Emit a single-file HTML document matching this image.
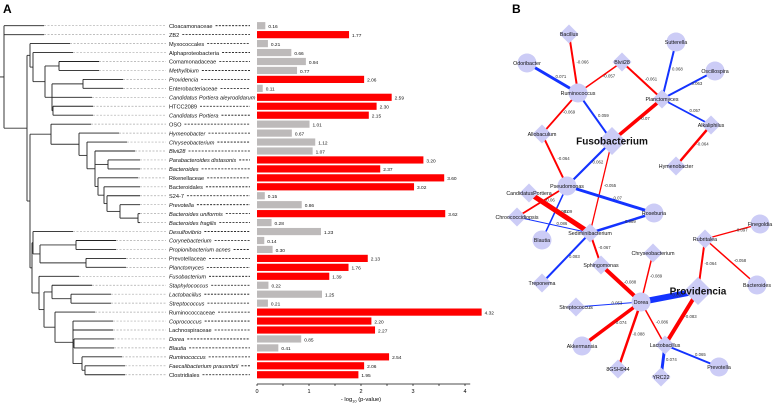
<!DOCTYPE html>
<html><head><meta charset="utf-8"><style>
html,body{margin:0;padding:0;background:#fff;}
svg{display:block;font-family:"Liberation Sans",sans-serif;}
</style></head><body>
<svg id="svg" width="778" height="404" viewBox="0 0 778 404">
<text x="3" y="13" font-size="12" font-weight="bold">A</text>
<text x="512" y="13" font-size="12" font-weight="bold">B</text>
<g id="tree"></g>
<g id="labels"></g>
<g id="bars"></g>
<g id="axis"></g>
<g id="edges"></g>
<g id="nodes"></g>
</svg>
<script>
const taxa=["Cloacamonaceae","ZB2","Myxococcales","Alphaproteobacteria","Comamonadaceae","Methylibium","Providencia","Enterobacteriaceae","Candidatus Portiera aleyrodidarum","HTCC2089","Candidatus Portiera","OSO","Hymenobacter","Chryseobacterium","Blvii28","Parabacteroides distasonis","Bacteroides","Rikenellaceae","Bacteroidales","S24-7","Prevotella","Bacteroides uniformis","Bacteroides fragilis","Desulfovibrio","Corynebacterium","Propionibacterium acnes","Prevotellaceae","Planctomyces","Fusobacterium","Staphylococcus","Lactobacillus","Streptococcus","Ruminococcaceae","Coprococcus","Lachnospiraceae","Dorea","Blautia","Ruminococcus","Faecalibacterium prausnitzii","Clostridiales"];
const values=[0.16,1.77,0.21,0.66,0.94,0.77,2.06,0.11,2.59,2.30,2.15,1.01,0.67,1.12,1.07,3.20,2.37,3.60,3.02,0.15,0.86,3.62,0.28,1.23,0.14,0.30,2.13,1.76,1.39,0.22,1.25,0.21,4.32,2.20,2.27,0.85,0.41,2.54,2.06,1.95];
const significant=[0,1,0,0,0,0,1,0,1,1,1,0,0,0,0,1,1,1,1,0,0,1,0,0,0,0,1,1,1,0,0,0,1,1,1,0,0,1,1,1];
const italic=[0,0,0,0,0,1,1,0,1,0,1,0,1,1,1,1,1,0,0,0,1,1,1,1,1,1,0,1,1,1,1,1,0,1,0,1,1,1,1,0];
const ticks=[0,1,2,3,4];
const NS="http://www.w3.org/2000/svg";
function mk(tag,attrs,parent){const e=document.createElementNS(NS,tag);for(const k in attrs)e.setAttribute(k,attrs[k]);parent.appendChild(e);return e;}
const X0=257,UNIT=52,Y0=25.7,ROW=8.95;
const xs=v=>X0+v*UNIT, ys=i=>Y0+i*ROW;
const G=id=>document.getElementById(id);
// tree
const tree={x:4,c:[0,1,{x:27,c:[
 {x:30,c:[2,{x:33,c:[3,{x:45,c:[{x:59,c:[4,5]},{x:52,c:[{x:83,c:[6,7]},8,{x:53,c:[9,10]}]}]}]}]},
 {x:30,c:[
  {x:51,c:[11,{x:79,c:[12,{x:87,c:[13,{x:95,c:[14,{x:108,c:[15,16]},{x:98,c:[17,{x:104,c:[18,{x:107,c:[19,{x:120,c:[20,{x:138,c:[21,22]}]}]}]}]}]}]}]}]},
  {x:32,c:[{x:33,c:[23,{x:40,c:[{x:76,c:[24,25]},{x:86,c:[26,27]}]}]},
   {x:39,c:[28,{x:44,c:[{x:52,c:[29,{x:71,c:[30,31]}]},{x:55,c:[32,{x:73,c:[33,34,{x:74,c:[35,36]},{x:82,c:[37,{x:85,c:[38,39]}]}]}]}]}]}]}
 ]}]}]};
const tg=G('tree');
function nodeY(n){if(typeof n==='number')return ys(n);const a=n.c.map(nodeY);return (Math.min(...a)+Math.max(...a))/2;}
function draw(n){const cy=n.c.map(nodeY);
 mk('line',{x1:n.x,x2:n.x,y1:Math.min(...cy),y2:Math.max(...cy),stroke:'#222','stroke-width':0.9},tg);
 n.c.forEach((ch,k)=>{const y=cy[k];
  if(typeof ch==='number'){const tip=Math.min(n.x+40,140);
   mk('line',{x1:n.x,x2:tip,y1:y,y2:y,stroke:'#222','stroke-width':0.9},tg);
   mk('line',{x1:tip,x2:166,y1:y,y2:y,stroke:'#aaa','stroke-width':0.7,'stroke-dasharray':'2,1.5'},tg);}
  else{mk('line',{x1:n.x,x2:ch.x,y1:y,y2:y,stroke:'#333','stroke-width':0.9},tg);draw(ch);}
 });}
draw(tree);
mk('line',{x1:0,x2:4,y1:nodeY(tree),y2:nodeY(tree),stroke:'#222','stroke-width':0.9},tg);
// labels and bars
const lg=G('labels'),bg=G('bars');
taxa.forEach((t,i)=>{const y=ys(i);
 const tx=mk('text',{x:169,y:y+2.2,'font-size':5.6,'font-style':italic[i]?'italic':'normal',fill:'#111'},lg);tx.textContent=t;
 
 
 const w=tx.getComputedTextLength();
 if(169+w+3<250)mk('line',{x1:169+w+3,x2:250,y1:y,y2:y,stroke:'#111','stroke-width':0.8,'stroke-dasharray':'2,1.3'},lg);
 const r=mk('rect',{x:X0,y:y-3.6,width:xs(values[i])-X0,height:7.2,fill:significant[i]?'#ff0000':'#bdbaba'},bg);
 
 
 const vt=mk('text',{x:xs(values[i])+3,y:y+2.3,'font-size':4.8,fill:'#111'},bg);vt.textContent=values[i].toFixed(2);
 
 
});
// axis
const ag=G('axis');
mk('line',{x1:X0,x2:xs(4.1),y1:384,y2:384,stroke:'#111','stroke-width':0.8},ag);
for(let v=0;v<=4;v+=0.5)mk('line',{x1:xs(v),x2:xs(v),y1:384,y2:386,stroke:'#111','stroke-width':0.7},ag);
ticks.forEach(v=>{const t=mk('text',{x:xs(v),y:393,'font-size':5.5,'text-anchor':'middle'},ag);t.textContent=v;
 
 });
const at=mk('text',{x:361,y:401,'font-size':5.8,'text-anchor':'middle'},ag);
at.innerHTML='- log<tspan font-size="4" dy="1.5">10</tspan><tspan dy="-1.5"> (p-value)</tspan>';


// network
const nodes={Bacillus:[569,34,'d'],Odoribacter:[527,63,'c'],Blvii28:[622,62,'d'],Sutterella:[676,42,'c'],Oscillospira:[715,71,'c'],Ruminococcus:[578,93,'c'],Planctomyces:[662,99,'d'],Alkaliphilus:[711,125,'d'],Allobaculum:[542,134,'d'],Fusobacterium:[612,141,'D'],Hymenobacter:[676,166,'d'],Pseudomonas:[567,186,'c'],CandidatusPortiera:[529,193,'d'],Chroococcidiopsis:[517,217,'d'],Blautia:[542,240,'c'],Sediminibacterium:[590,233,'d'],Roseburia:[654,213,'c'],Sphingomonas:[601,265,'d'],Treponema:[542,283,'d'],Chryseobacterium:[653,253,'d'],Rubritalea:[705,239,'d'],Finegoldia:[760,224,'c'],Bacteroides:[757,285,'c'],Providencia:[698,291,'D'],Dorea:[641,302,'c'],Streptococcus:[576,307,'d'],Akkermansia:[582,346,'c'],Lactobacillus:[665,345,'d'],Prevotella:[719,367,'c'],'8GSH944':[618,369,'d'],YRC22:[661,377,'d']};
const edges=[["Bacillus","Ruminococcus",-0.066,2],["Odoribacter","Ruminococcus",0.071,3],["Blvii28","Ruminococcus",-0.057,1.5],["Blvii28","Planctomyces",-0.061,2],["Sutterella","Planctomyces",0.068,2],["Oscillospira","Planctomyces",0.063,2],["Planctomyces","Alkaliphilus",0.057,1.8],["Alkaliphilus","Hymenobacter",-0.064,2.5],["Ruminococcus","Allobaculum",-0.069,1.8],["Ruminococcus","Fusobacterium",0.059,2],["Planctomyces","Fusobacterium",-0.07,3.5],["Allobaculum","Pseudomonas",-0.064,2],["Fusobacterium","Pseudomonas",0.062,2.2],["Fusobacterium","Sediminibacterium",-0.055,1.3],["Pseudomonas","Roseburia",0.07,3],["Pseudomonas","Blautia",0.081,1.5],["CandidatusPortiera","Sediminibacterium",-0.09,5],["Chroococcidiopsis","Pseudomonas",-0.06,1.8],["Chroococcidiopsis","Sediminibacterium",0.086,1],["Sediminibacterium","Roseburia",0.089,2.5],["Sediminibacterium","Treponema",0.083,2],["Sediminibacterium","Sphingomonas",-0.067,2],["Sphingomonas","Dorea",-0.088,4],["Chryseobacterium","Dorea",-0.089,1.5],["Dorea","Providencia",0.097,6],["Dorea","Streptococcus",0.053,1],["Dorea","Akkermansia",-0.074,3.5],["Dorea","8GSH944",-0.088,2.5],["Dorea","Lactobacillus",-0.086,1.5],["Providencia","Lactobacillus",-0.083,4],["Rubritalea","Providencia",-0.064,2],["Rubritalea","Finegoldia",-0.097,1.3],["Rubritalea","Bacteroides",-0.058,1.5],["Lactobacillus","Prevotella",0.065,2],["Lactobacillus","YRC22",0.074,3]];
const eg=G('edges'),ng=G('nodes');
edges.forEach(e=>{const a=nodes[e[0]],b=nodes[e[1]];
 const l=mk('line',{x1:a[0],y1:a[1],x2:b[0],y2:b[1],stroke:e[2]<0?'#ff0000':'#1433ff','stroke-width':e[3]},eg);
 
 
 const t=mk('text',{x:(a[0]+b[0])/2+3,y:(a[1]+b[1])/2,'font-size':4.3,fill:'#333'},eg);t.textContent=String(e[2]).replace('0.','0.').replace(/^-/, '-');
 
 });
for(const k in nodes){const [x,y,s]=nodes[k];let el;
 if(s==='c')el=mk('circle',{cx:x,cy:y,r:9.5,fill:'#ccccf6'},ng);
 else{const r=s==='D'?14:9.5;el=mk('polygon',{points:`${x},${y-r} ${x+r},${y} ${x},${y+r} ${x-r},${y}`,fill:'#ccccf6'},ng);}
 
 
 const big=s==='D';
 const t=mk('text',{x:x,y:y+(big?3.5:2),'font-size':big?10:5.3,'font-weight':big?'bold':'normal','text-anchor':'middle',fill:'#111'},ng);t.textContent=k;
 
 }
</script>
</body></html>
